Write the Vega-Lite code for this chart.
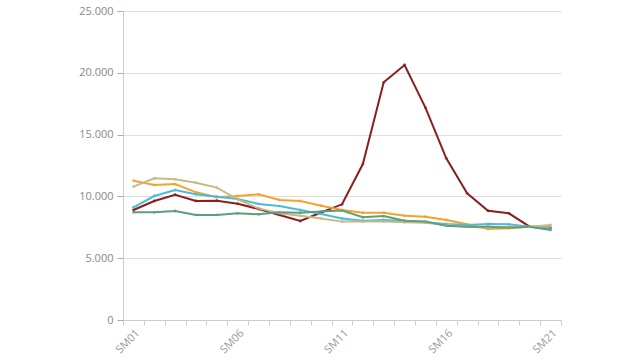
{
  "$schema": "https://vega.github.io/schema/vega-lite/v6.json",
  "width": 438,
  "height": 309,
  "autosize": "none",
  "padding": {"left": 123, "top": 11, "right": 79, "bottom": 40},
  "background": "white",
  "config": {"view": {"stroke": null}, "font": "Open Sans"},
  "data": {"values": [
    {"s":"A","w":"SM01","v":8900},{"s":"A","w":"SM02","v":9630},{"s":"A","w":"SM03","v":10140},{"s":"A","w":"SM04","v":9630},{"s":"A","w":"SM05","v":9650},{"s":"A","w":"SM06","v":9410},{"s":"A","w":"SM07","v":8980},{"s":"A","w":"SM08","v":8500},{"s":"A","w":"SM09","v":8010},{"s":"A","w":"SM10","v":8700},{"s":"A","w":"SM11","v":9360},{"s":"A","w":"SM12","v":12620},{"s":"A","w":"SM13","v":19230},{"s":"A","w":"SM14","v":20630},{"s":"A","w":"SM15","v":17180},{"s":"A","w":"SM16","v":13080},{"s":"A","w":"SM17","v":10250},{"s":"A","w":"SM18","v":8840},{"s":"A","w":"SM19","v":8630},{"s":"A","w":"SM20","v":7550},{"s":"A","w":"SM21","v":7420},
    {"s":"B","w":"SM01","v":11270},{"s":"B","w":"SM02","v":10920},{"s":"B","w":"SM03","v":11000},{"s":"B","w":"SM04","v":10330},{"s":"B","w":"SM05","v":9930},{"s":"B","w":"SM06","v":10030},{"s":"B","w":"SM07","v":10170},{"s":"B","w":"SM08","v":9710},{"s":"B","w":"SM09","v":9630},{"s":"B","w":"SM10","v":9250},{"s":"B","w":"SM11","v":8900},{"s":"B","w":"SM12","v":8680},{"s":"B","w":"SM13","v":8680},{"s":"B","w":"SM14","v":8440},{"s":"B","w":"SM15","v":8360},{"s":"B","w":"SM16","v":8090},{"s":"B","w":"SM17","v":7740},{"s":"B","w":"SM18","v":7360},{"s":"B","w":"SM19","v":7420},{"s":"B","w":"SM20","v":7550},{"s":"B","w":"SM21","v":7600},
    {"s":"C","w":"SM01","v":9120},{"s":"C","w":"SM02","v":10030},{"s":"C","w":"SM03","v":10520},{"s":"C","w":"SM04","v":10170},{"s":"C","w":"SM05","v":9980},{"s":"C","w":"SM06","v":9790},{"s":"C","w":"SM07","v":9390},{"s":"C","w":"SM08","v":9220},{"s":"C","w":"SM09","v":8900},{"s":"C","w":"SM10","v":8580},{"s":"C","w":"SM11","v":8220},{"s":"C","w":"SM12","v":8030},{"s":"C","w":"SM13","v":8090},{"s":"C","w":"SM14","v":8010},{"s":"C","w":"SM15","v":7900},{"s":"C","w":"SM16","v":7770},{"s":"C","w":"SM17","v":7690},{"s":"C","w":"SM18","v":7770},{"s":"C","w":"SM19","v":7740},{"s":"C","w":"SM20","v":7550},{"s":"C","w":"SM21","v":7420},
    {"s":"D","w":"SM01","v":10790},{"s":"D","w":"SM02","v":11460},{"s":"D","w":"SM03","v":11380},{"s":"D","w":"SM04","v":11110},{"s":"D","w":"SM05","v":10710},{"s":"D","w":"SM06","v":9760},{"s":"D","w":"SM07","v":9030},{"s":"D","w":"SM08","v":8630},{"s":"D","w":"SM09","v":8440},{"s":"D","w":"SM10","v":8220},{"s":"D","w":"SM11","v":7960},{"s":"D","w":"SM12","v":7960},{"s":"D","w":"SM13","v":7960},{"s":"D","w":"SM14","v":7900},{"s":"D","w":"SM15","v":7870},{"s":"D","w":"SM16","v":7690},{"s":"D","w":"SM17","v":7550},{"s":"D","w":"SM18","v":7470},{"s":"D","w":"SM19","v":7550},{"s":"D","w":"SM20","v":7550},{"s":"D","w":"SM21","v":7690},
    {"s":"E","w":"SM01","v":8710},{"s":"E","w":"SM02","v":8710},{"s":"E","w":"SM03","v":8820},{"s":"E","w":"SM04","v":8500},{"s":"E","w":"SM05","v":8500},{"s":"E","w":"SM06","v":8630},{"s":"E","w":"SM07","v":8550},{"s":"E","w":"SM08","v":8710},{"s":"E","w":"SM09","v":8680},{"s":"E","w":"SM10","v":8770},{"s":"E","w":"SM11","v":8850},{"s":"E","w":"SM12","v":8310},{"s":"E","w":"SM13","v":8410},{"s":"E","w":"SM14","v":8030},{"s":"E","w":"SM15","v":7960},{"s":"E","w":"SM16","v":7630},{"s":"E","w":"SM17","v":7550},{"s":"E","w":"SM18","v":7550},{"s":"E","w":"SM19","v":7470},{"s":"E","w":"SM20","v":7550},{"s":"E","w":"SM21","v":7280}
  ]},
  "mark": {"type": "line", "strokeWidth": 2, "point": {"size": 8, "filled": true, "opacity": 0.8}},
  "encoding": {
    "x": {
      "field": "w", "type": "ordinal", "bandPosition": 0.5,
      "scale": {"type": "band", "paddingInner": 0, "paddingOuter": 0},
      "axis": {
        "title": null, "tickBand": "extent", "labelAngle": -45, "labelAlign": "right", "labelBaseline": "top",
        "labelExpr": "indexof(['SM01','SM06','SM11','SM16','SM21'], datum.value) >= 0 ? datum.value : ''",
        "labelColor": "#999999", "labelFontSize": 11, "domainColor": "#cccccc", "tickColor": "#cccccc", "tickSize": 5, "labelPadding": 2
      }
    },
    "y": {
      "field": "v", "type": "quantitative",
      "scale": {"domain": [0, 25000], "nice": false},
      "axis": {
        "title": null, "values": [0, 5000, 10000, 15000, 20000, 25000],
        "labelExpr": "replace(format(datum.value, ','), ',', '.')",
        "labelColor": "#888888", "labelFontSize": 11, "domainColor": "#cccccc", "tickColor": "#aaaaaa", "tickSize": 6,
        "gridColor": "#dddddd", "labelPadding": 4
      }
    },
    "color": {
      "field": "s", "type": "nominal", "legend": null,
      "scale": {"domain": ["D","B","C","A","E"], "range": ["#C9B88A","#F4A32A","#4DBBD5","#8B1E1E","#5E9E7E"]}
    },
    "order": {"field": "s"}
  }
}
